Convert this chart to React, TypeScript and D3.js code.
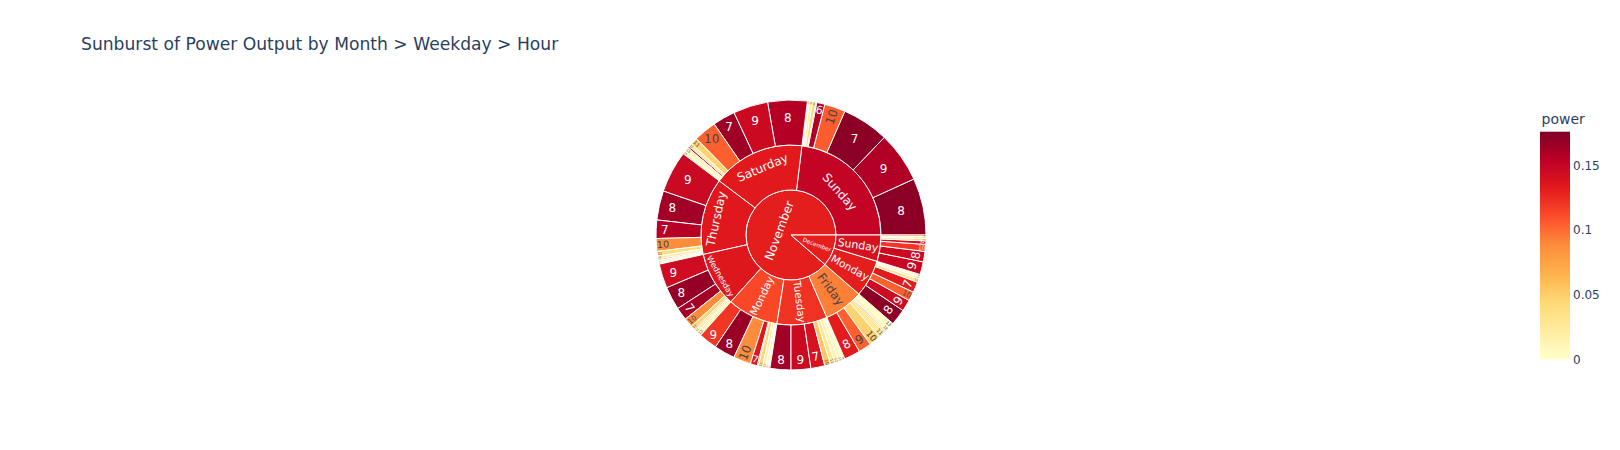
import React, { useMemo } from 'react';
import * as d3 from 'd3';

const WIDTH = 1620;
const HEIGHT = 450;

const titleText = 'Sunburst of Power Output by Month > Weekday > Hour';
const colorTitle = 'power';

// Level 1: months
const monthNames = ['November', 'December'];
const monthPower = [0.131, 0.13];

// Level 2: weekdays (with the month they belong to)
const dayNames = ['Sunday', 'Saturday', 'Thursday', 'Wednesday', 'Monday', 'Tuesday', 'Friday', 'Monday', 'Sunday'];
const dayMonth = [0, 0, 0, 0, 0, 0, 0, 1, 1];
const dayPower = [0.151, 0.133, 0.134, 0.135, 0.113, 0.122, 0.093, 0.131, 0.14];

// Level 3: hours per weekday
const hourLabels = [
  ['8', '9', '7', '10', '6', '16', '11', '12', '13'],
  ['8', '9', '7', '10', '11', '12', '6', '13', '14'],
  ['9', '8', '7', '10', '11', '12', '6', '13', '14'],
  ['9', '8', '7', '10', '11', '6', '12', '13'],
  ['9', '8', '10', '7', '6', '11', '12', '13', '14'],
  ['8', '9', '7', '10', '11', '12', '13', '14'],
  ['8', '9', '10', '11', '6', '12', '13'],
  ['8', '9', '10', '7', '11', '12', '13'],
  ['9', '8', '10', '7', '11', '12', '6'],
];
const hourOutput = [
  [2.45, 2.18, 2.02, 0.9, 0.35, 0.04, 0.14, 0.12, 0.1],
  [1.7, 1.5, 0.97, 0.98, 0.3, 0.15, 0.08, 0.18, 0.14],
  [1.8, 1.26, 0.79, 0.55, 0.2, 0.14, 0.05, 0.09, 0.07],
  [1.05, 1.0, 0.55, 0.4, 0.18, 0.05, 0.12, 0.2],
  [0.8, 0.9, 0.75, 0.3, 0.05, 0.18, 0.14, 0.1, 0.08],
  [0.9, 0.85, 0.6, 0.25, 0.2, 0.18, 0.15, 0.12],
  [0.7, 0.55, 0.5, 0.3, 0.05, 0.2, 0.25],
  [0.7, 0.5, 0.4, 0.45, 0.15, 0.1, 0.1],
  [0.55, 0.45, 0.3, 0.15, 0.1, 0.08, 0.07],
];
const hourPower = [
  [0.172, 0.159, 0.172, 0.105, 0.158, 0.14, 0.045, 0.022, 0.008],
  [0.157, 0.146, 0.165, 0.104, 0.048, 0.025, 0.16, 0.012, 0.004],
  [0.147, 0.164, 0.156, 0.088, 0.04, 0.02, 0.13, 0.01, 0.004],
  [0.144, 0.168, 0.163, 0.088, 0.045, 0.14, 0.02, 0.008],
  [0.12, 0.167, 0.088, 0.135, 0.15, 0.045, 0.02, 0.01, 0.004],
  [0.164, 0.146, 0.14, 0.055, 0.03, 0.015, 0.008, 0.003],
  [0.132, 0.104, 0.048, 0.025, 0.15, 0.01, 0.004],
  [0.172, 0.145, 0.104, 0.132, 0.03, 0.012, 0.004],
  [0.148, 0.146, 0.12, 0.14, 0.04, 0.02, 0.1],
];

const colorStops = ['#ffffcc', '#ffeda0', '#fed976', '#feb24c', '#fd8d3c', '#fc4e2a', '#e31a1c', '#bd0026', '#800026'];
const colorMin = 0;
const colorMax = 0.1763;
const colorTicks = [0, 0.05, 0.1, 0.15];

const FONT = '"DejaVu Sans", Verdana, sans-serif';
const CX = 791;
const CY = 235;
const R = 135;
const TEXTPAD = 3;
const LABEL_SIZE = 12;

function norm180(a: number) {
  return (((a + 90) % 180) + 180) % 180 - 90;
}
function calcMaxHalfSize(a: number, halfAngle: number, r: number, ring: number) {
  const q = a + 1 / (2 * Math.tan(halfAngle));
  return r * Math.min(1 / (Math.sqrt(q * q + 0.5) + q), ring / (Math.sqrt(a * a + ring / 2) + a));
}
function calcRCenter(a: number, b: number) {
  return Math.cos(b) - a * b;
}

function fitText(w: number, h: number, rpx0: number, rpx1: number, x0: number, x1: number) {
  const span = x1 - x0;
  const halfAngle = 0.5 * Math.min(span, Math.PI);
  const ring = 1 - rpx0 / rpx1;
  const midDeg = ((x0 + x1) / 2) * 180 / Math.PI;
  const rIns = rpx0 === 0 && span >= 2 * Math.PI - 1e-9
    ? 1
    : Math.max(0, Math.min(1 / (1 + 1 / Math.sin(halfAngle)), ring / 2));
  const all: { scale: number; rCenter: number; rotate: number }[] = [];
  const hT = { scale: (rIns * rpx1 * 2) / Math.hypot(w, h), rCenter: 1 - rIns, rotate: 0 };
  if (hT.scale >= 1) return hT;
  all.push(hT);
  const rr = Math.max(0, rpx1 - 2 * TEXTPAD);
  let a = w / h;
  let s = calcMaxHalfSize(a, halfAngle, rr, ring);
  all.push({ scale: (s * 2) / h, rCenter: calcRCenter(a, s / rr), rotate: norm180(-midDeg) });
  a = h / w;
  s = calcMaxHalfSize(a, halfAngle, rr, ring);
  all.push({ scale: (s * 2) / w, rCenter: calcRCenter(a, s / rr), rotate: norm180(90 - midDeg) });
  let best = 0;
  let bs = 0;
  all.forEach((t, i) => {
    if (bs < t.scale) {
      bs = t.scale;
      best = i;
    }
  });
  return all[best];
}

export default function App() {
  const color = useMemo(
    () =>
      d3
        .scaleLinear<string>()
        .domain(colorStops.map((_, i) => colorMin + ((colorMax - colorMin) * i) / (colorStops.length - 1)))
        .range(colorStops)
        .interpolate(d3.interpolateRgb)
        .clamp(true),
    []
  );

  const nodes = useMemo(() => {
    const data = {
      name: '',
      power: 0,
      children: monthNames.map((m, mi) => ({
        name: m,
        power: monthPower[mi],
        children: dayNames
          .map((d, di) => ({ d, di }))
          .filter((o) => dayMonth[o.di] === mi)
          .map(({ d, di }) => ({
            name: d,
            power: dayPower[di],
            children: hourLabels[di].map((h, hi) => ({ name: h, power: hourPower[di][hi], value: hourOutput[di][hi] })),
          })),
      })),
    };
    const root = d3.hierarchy<any>(data).sum((d: any) => d.value || 0);
    d3.partition<any>().size([2 * Math.PI, 4])(root);
    return root.descendants().filter((n: any) => n.depth > 0);
  }, []);

  const rScale = d3.scaleLinear().domain([1, 4]).range([0, R]);
  const arc = d3.arc<any>()
    .innerRadius((d: any) => rScale(d.y0))
    .outerRadius((d: any) => rScale(d.y1))
    .startAngle((d: any) => Math.PI / 2 - d.x1)
    .endAngle((d: any) => Math.PI / 2 - d.x0);

  const ctx = useMemo(() => {
    const c = document.createElement('canvas').getContext('2d')!;
    c.font = `${LABEL_SIZE}px ${FONT}`;
    return c;
  }, []);

  const labels = nodes.map((n: any, i: number) => {
    const fill = color(n.data.power) as string;
    const rgb = d3.rgb(fill);
    const bright = (rgb.r * 299 + rgb.g * 587 + rgb.b * 114) / 1000;
    const textColor = bright < 128 ? '#ffffff' : '#444444';
    const w = ctx.measureText(n.data.name).width;
    const h = LABEL_SIZE * 1.164;
    const rpx0 = rScale(n.y0);
    const rpx1 = rScale(n.y1);
    const t = fitText(w, h, rpx0, rpx1, n.x0, n.x1);
    const mid = (n.x0 + n.x1) / 2;
    const rc = rpx1 * t.rCenter;
    const tx = CX + rc * Math.cos(mid);
    const ty = CY - rc * Math.sin(mid);
    const sc = Math.min(1, t.scale);
    return (
      <text
        key={'t' + i}
        transform={`translate(${tx},${ty}) rotate(${t.rotate}) scale(${sc})`}
        textAnchor="middle"
        dy="0.346em"
        fontFamily={FONT}
        fontSize={LABEL_SIZE}
        fill={textColor}
      >
        {n.data.name}
      </text>
    );
  });

  const barTop = 131.7;
  const barBottom = 359.3;
  const barX = 1540;
  const barW = 30;
  const yBar = d3.scaleLinear().domain([colorMin, colorMax]).range([barBottom, barTop]);
  const fmt = d3.format('~g');

  return (
    <svg
      width={WIDTH}
      height={HEIGHT}
      style={{ position: 'absolute', left: 0, top: 0, background: '#fff' }}
      xmlns="http://www.w3.org/2000/svg"
    >
      <defs>
        <linearGradient id="cbar" x1="0" y1="1" x2="0" y2="0">
          {colorStops.map((c, i) => (
            <stop key={i} offset={i / (colorStops.length - 1)} stopColor={c} />
          ))}
        </linearGradient>
      </defs>
      <rect x={0} y={0} width={WIDTH} height={HEIGHT} fill="#fff" />
      <text x={81} y={50} fontFamily={FONT} fontSize={17.15} fill="#2a3f5f">
        {titleText}
      </text>
      <g transform={`translate(${CX},${CY})`}>
        {nodes.map((n: any, i: number) => (
          <path key={'p' + i} d={arc(n) as string} fill={color(n.data.power) as string} stroke="#ffffff" strokeWidth={1} />
        ))}
      </g>
      <g>{labels}</g>
      <text x={barX + 1.5} y={124} fontFamily={FONT} fontSize={14} fill="#2a3f5f">
        {colorTitle}
      </text>
      <rect x={barX} y={barTop} width={barW} height={barBottom - barTop} fill="url(#cbar)" />
      {colorTicks.map((t) => (
        <text key={t} x={barX + barW + 3} y={yBar(t)} dy="0.35em" fontFamily={FONT} fontSize={12} fill="#2a3f5f">
          {fmt(t)}
        </text>
      ))}
    </svg>
  );
}
